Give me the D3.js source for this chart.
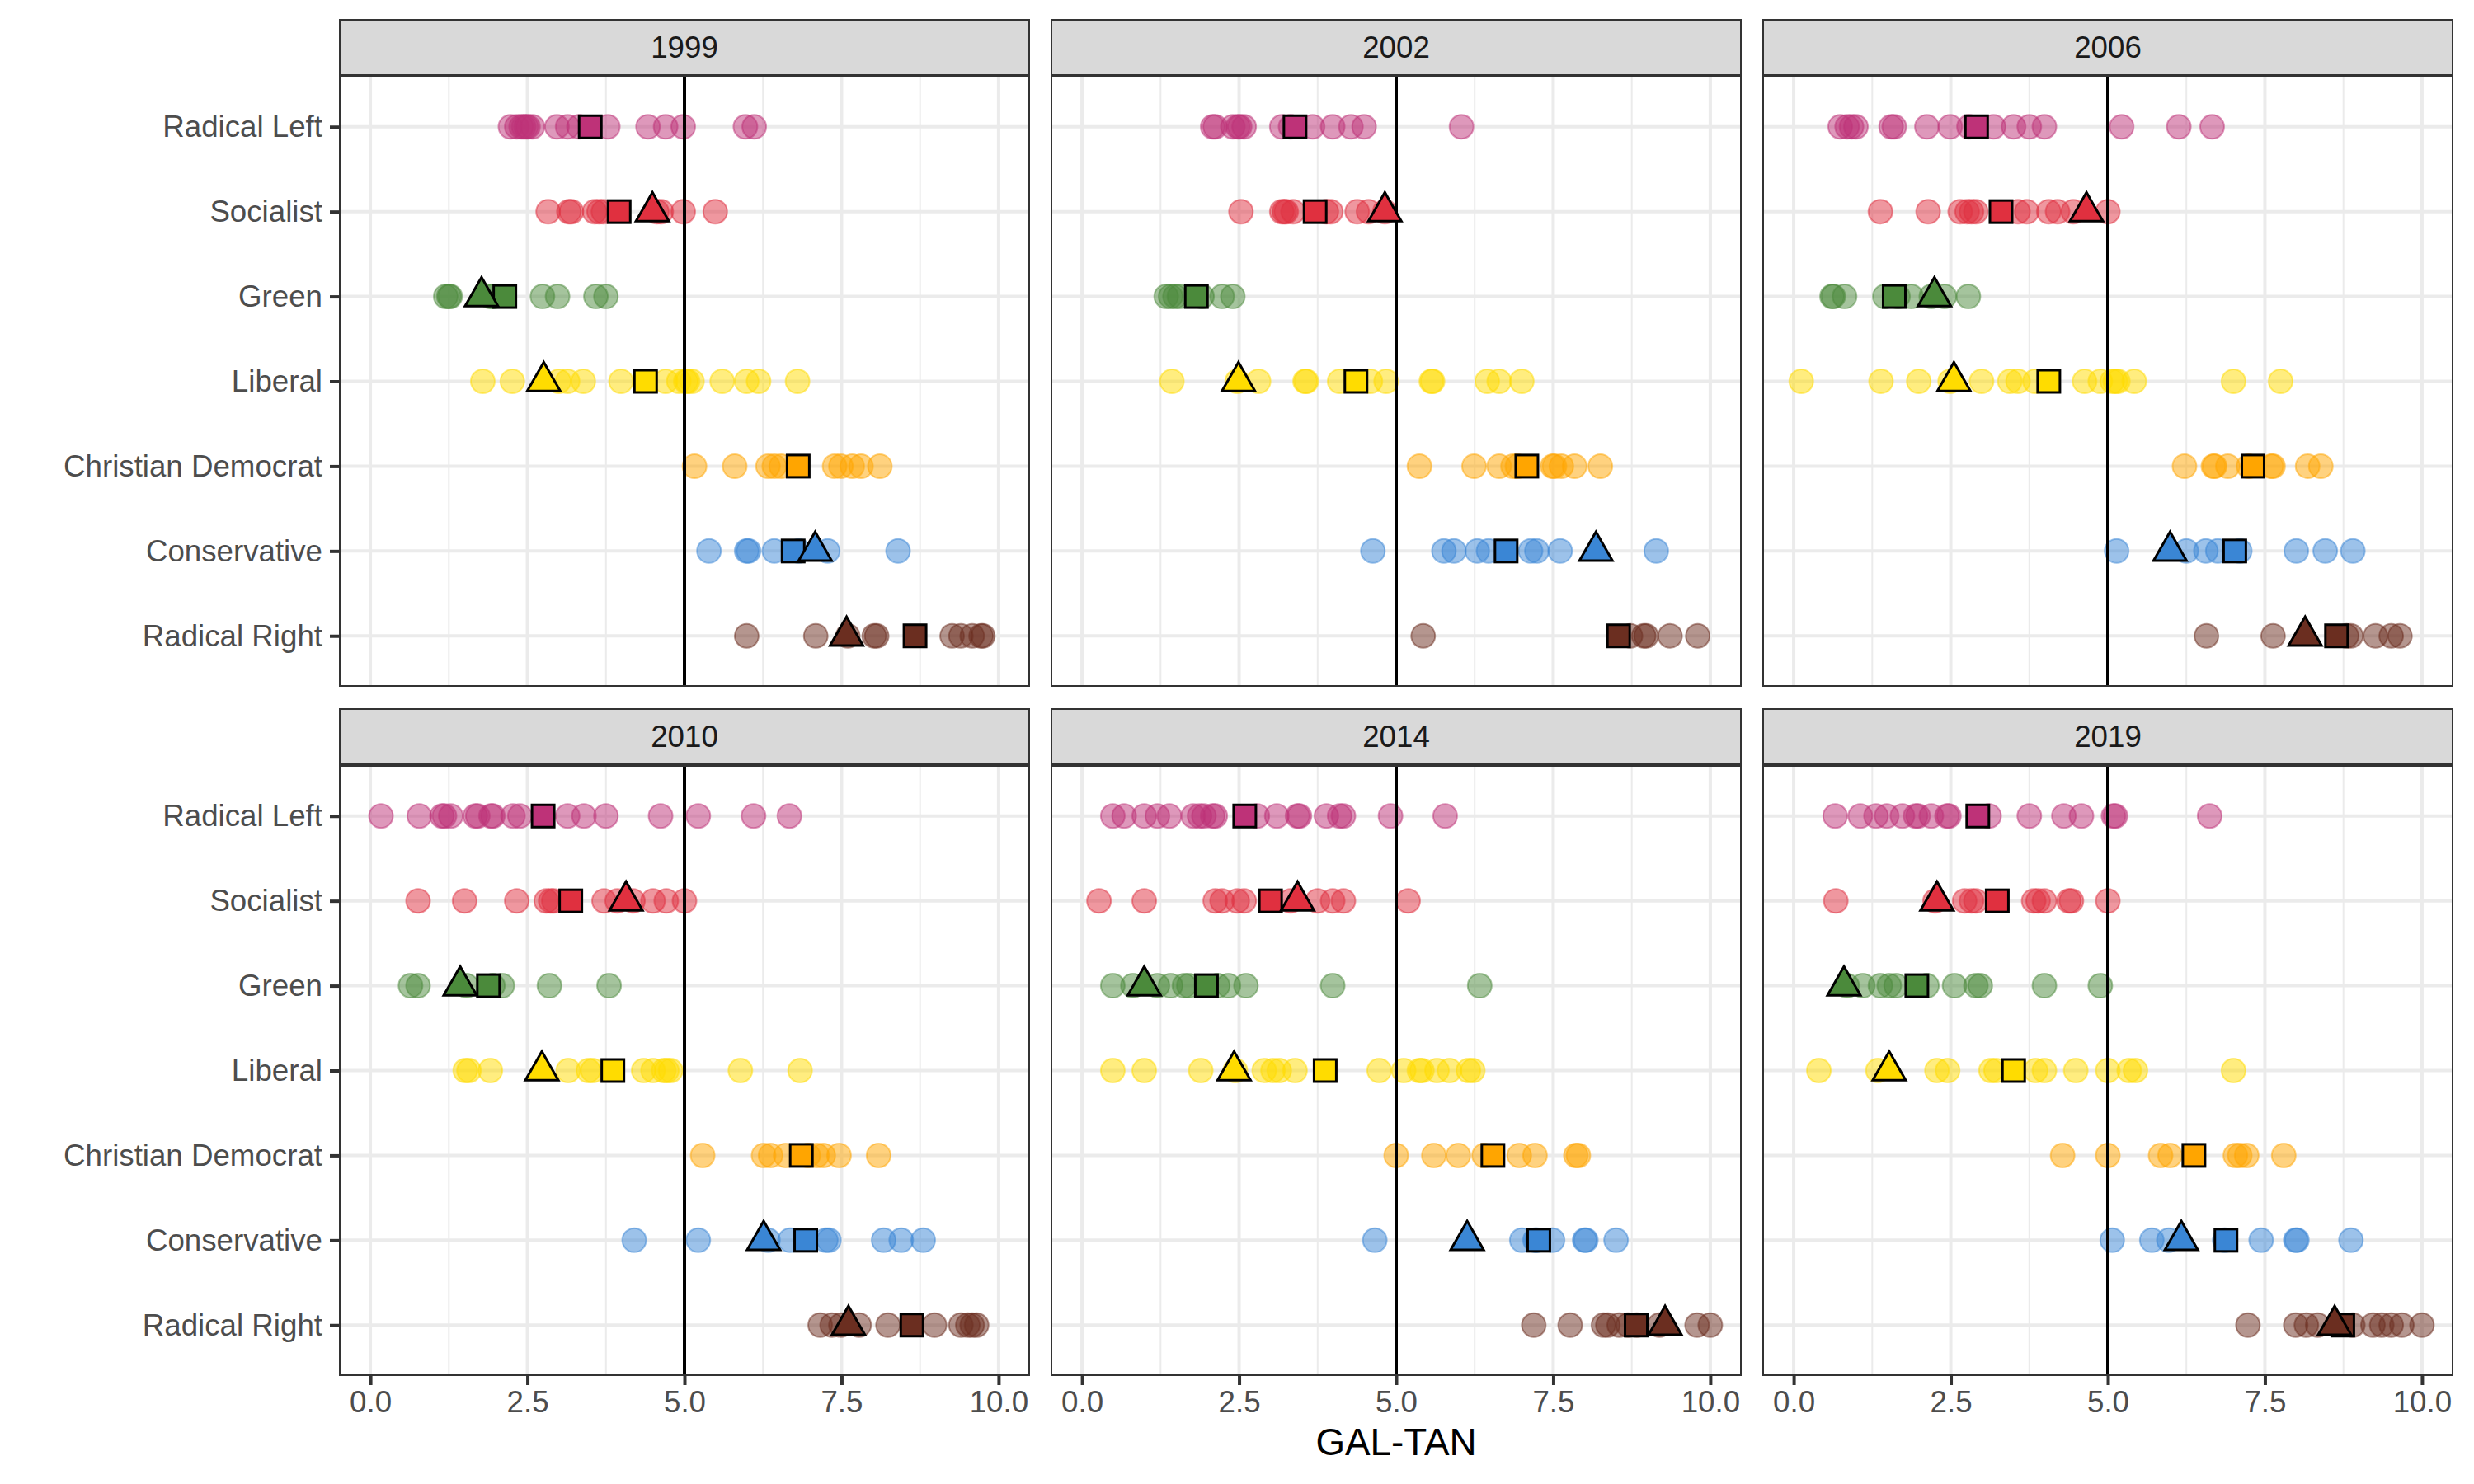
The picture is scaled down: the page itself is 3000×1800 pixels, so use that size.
<!DOCTYPE html>
<html>
<head>
<meta charset="utf-8">
<script src="https://cdn.jsdelivr.net/npm/d3@7"></script>
<style>
  html, body { margin: 0; padding: 0; background: #ffffff; }
  svg { display: block; font-family: "Liberation Sans", Arial, sans-serif; }
</style>
</head>
<body>
<script>
// ---------------- DATA ----------------
const families = ["Radical Left", "Socialist", "Green", "Liberal", "Christian Democrat", "Conservative", "Radical Right"];
const years = ["1999", "2002", "2006", "2010", "2014", "2019"];
const familyColors = ["#be3278", "#e0303f", "#4b8a3b", "#ffdc00", "#ffa500", "#3a86d5", "#6b2e20"];
const xTicks = [0, 2.5, 5, 7.5, 10];
const xMinor = [1.25, 3.75, 6.25, 8.75];
const refLine = 5;

// party positions per family (order of `families`)
const parties1999 = [
  [2.23, 2.33, 2.40, 2.44, 2.48, 2.51, 2.58, 2.97, 3.14, 3.32, 3.78, 4.42, 4.70, 4.98, 5.97, 6.11],
  [2.83, 3.16, 3.20, 3.57, 3.64, 3.71, 4.56, 4.63, 4.98, 5.49],
  [1.20, 1.25, 1.27, 1.91, 1.95, 2.74, 2.98, 3.59, 3.75],
  [1.79, 2.26, 3.00, 3.14, 3.39, 3.99, 4.70, 4.91, 5.02, 5.05, 5.12, 5.60, 5.99, 6.18, 6.80],
  [5.16, 5.80, 6.33, 6.43, 6.54, 7.39, 7.49, 7.67, 7.81, 8.11],
  [5.39, 5.99, 6.02, 6.43, 6.82, 7.28, 8.40],
  [5.99, 7.09, 7.60, 8.02, 8.06, 9.26, 9.40, 9.58, 9.72, 9.75]
];
const means1999 = [3.50, 3.96, 2.14, 4.38, 6.81, 6.73, 8.67];
const focus1999 = [null, 4.49, 1.77, 2.76, null, 7.08, 7.58];

const parties2002 = [
  [2.08, 2.12, 2.40, 2.48, 2.51, 2.58, 3.18, 3.32, 3.67, 3.99, 4.28, 4.49, 6.04],
  [2.53, 3.18, 3.22, 3.25, 3.36, 3.89, 3.96, 4.38, 4.56, 4.82],
  [1.34, 1.41, 1.48, 1.55, 1.91, 2.23, 2.40],
  [1.43, 2.47, 2.81, 3.55, 3.57, 4.10, 4.59, 4.84, 5.56, 5.58, 6.45, 6.64, 7.00],
  [5.37, 6.24, 6.64, 6.86, 6.93, 7.49, 7.52, 7.63, 7.84, 8.25],
  [4.63, 5.76, 5.92, 6.29, 6.47, 7.14, 7.24, 7.61, 9.14],
  [5.43, 8.73, 8.94, 8.98, 9.36, 9.80]
];
const means2002 = [3.39, 3.71, 1.82, 4.36, 7.08, 6.75, 8.54];
const focus2002 = [null, 4.82, null, 2.49, null, 8.18, null];

const parties2006 = [
  [0.74, 0.85, 0.92, 0.99, 1.55, 1.60, 2.12, 2.49, 2.79, 3.18, 3.50, 3.75, 3.99, 5.22, 6.13, 6.66],
  [1.38, 2.14, 2.65, 2.76, 2.83, 2.90, 3.57, 3.71, 4.06, 4.20, 4.45, 5.00],
  [0.61, 0.63, 0.81, 1.45, 1.66, 1.87, 2.19, 2.40, 2.78],
  [0.12, 1.39, 1.99, 2.49, 2.99, 3.44, 3.57, 3.84, 4.63, 4.88, 5.07, 5.12, 5.16, 5.42, 7.00, 7.75],
  [6.22, 6.68, 6.70, 6.91, 7.24, 7.60, 7.63, 8.18, 8.39],
  [5.14, 6.25, 6.56, 6.75, 7.10, 8.00, 8.46, 8.90],
  [6.57, 7.63, 8.80, 8.87, 9.26, 9.51, 9.65]
];
const means2006 = [2.91, 3.30, 1.60, 4.06, 7.31, 7.02, 8.64];
const focus2006 = [null, 4.66, 2.24, 2.55, null, 5.99, 8.14];

const parties2010 = [
  [0.17, 0.78, 1.14, 1.18, 1.28, 1.67, 1.71, 1.92, 1.95, 2.27, 2.38, 3.14, 3.40, 3.75, 4.62, 5.22, 6.10, 6.67],
  [0.76, 1.50, 2.33, 2.80, 2.87, 2.92, 3.72, 3.93, 4.18, 4.50, 4.71, 5.00],
  [0.64, 0.76, 1.53, 1.95, 2.10, 2.85, 3.80],
  [1.51, 1.57, 1.91, 3.15, 3.47, 3.54, 4.35, 4.50, 4.67, 4.72, 4.78, 5.89, 6.84],
  [5.29, 6.26, 6.37, 6.61, 6.97, 7.11, 7.21, 7.46, 8.09],
  [4.20, 5.22, 6.33, 6.68, 7.25, 7.30, 8.17, 8.45, 8.80],
  [7.16, 7.35, 7.49, 7.78, 8.24, 8.98, 9.40, 9.51, 9.58, 9.65]
];
const means2010 = [2.75, 3.19, 1.88, 3.86, 6.86, 6.93, 8.62];
const focus2010 = [null, 4.07, 1.43, 2.73, null, 6.26, 7.61];

const parties2014 = [
  [0.49, 0.67, 0.99, 1.20, 1.39, 1.77, 1.87, 1.94, 2.08, 2.12, 2.79, 3.10, 3.43, 3.46, 3.89, 4.10, 4.16, 4.91, 5.78],
  [0.27, 0.99, 2.12, 2.23, 2.47, 2.58, 3.32, 3.75, 3.99, 4.16, 5.19],
  [0.49, 0.81, 1.20, 1.41, 1.63, 1.70, 2.16, 2.33, 2.61, 3.99, 6.33],
  [0.49, 0.99, 1.89, 2.44, 2.90, 3.04, 3.14, 3.39, 4.73, 5.12, 5.37, 5.41, 5.65, 5.85, 6.15, 6.22],
  [5.00, 5.60, 5.99, 6.40, 6.96, 7.21, 7.86, 7.90],
  [4.66, 7.00, 7.21, 7.24, 7.49, 8.00, 8.02, 8.50],
  [7.19, 7.77, 8.30, 8.37, 8.55, 8.69, 8.83, 9.19, 9.79, 10.0]
];
const means2014 = [2.59, 3.00, 1.98, 3.87, 6.54, 7.27, 8.82];
const focus2014 = [null, 3.43, 0.99, 2.42, null, 6.13, 9.28];

const parties2019 = [
  [0.66, 1.06, 1.31, 1.48, 1.73, 1.94, 1.98, 2.19, 2.44, 2.47, 3.11, 3.75, 4.30, 4.58, 5.09, 5.12, 6.62],
  [0.67, 2.25, 2.72, 2.83, 2.90, 3.82, 3.89, 3.99, 4.38, 4.42, 5.00],
  [0.85, 1.10, 1.38, 1.52, 1.63, 2.12, 2.56, 2.90, 2.97, 3.99, 4.88],
  [0.40, 1.34, 2.28, 2.45, 3.14, 3.22, 3.85, 3.99, 4.49, 5.00, 5.34, 5.44, 7.00],
  [4.28, 5.00, 5.84, 5.99, 7.03, 7.10, 7.21, 7.80],
  [5.07, 5.70, 5.97, 6.86, 7.44, 7.99, 8.01, 8.87],
  [7.23, 7.99, 8.16, 8.34, 8.90, 9.22, 9.36, 9.51, 9.68, 10.0]
];
const means2019 = [2.93, 3.24, 1.96, 3.50, 6.37, 6.88, 8.74];
const focus2019 = [null, 2.28, 0.80, 1.52, null, 6.17, 8.61];

const partiesByYear = [parties1999, parties2002, parties2006, parties2010, parties2014, parties2019];
const meansByYear = [means1999, means2002, means2006, means2010, means2014, means2019];
const focusByYear = [focus1999, focus2002, focus2006, focus2010, focus2014, focus2019];

// ---------------- LAYOUT ----------------
const W = 3000, H = 1800;
const colX = [411, 1274, 2137];
const rowY = [92, 928];
const panelW = 838, panelH = 741, stripH = 69;
const axisFont = 36.7, titleFont = 45.8;

const svg = d3.select("body").append("svg").attr("width", W).attr("height", H);
svg.append("rect").attr("width", W).attr("height", H).attr("fill", "#ffffff");

const x = d3.scaleLinear().domain([-0.5, 10.5]).range([0, panelW]);
const y = d3.scalePoint().domain(families).range([0, panelH]).padding(0.6);
const color = d3.scaleOrdinal().domain(families).range(familyColors);

const triH = 35, triSide = 40;
const trianglePath = `M0,${-triH * 2 / 3}L${triSide / 2},${triH / 3}L${-triSide / 2},${triH / 3}Z`;

years.forEach((yr, i) => {
  const col = i % 3, row = Math.floor(i / 3);
  const px = colX[col], py = rowY[row];
  const g = svg.append("g").attr("transform", `translate(${px},${py})`);

  g.append("clipPath").attr("id", "clip" + i)
    .append("rect").attr("width", panelW).attr("height", panelH);

  const body = g.append("g").attr("clip-path", `url(#clip${i})`);
  body.append("rect").attr("width", panelW).attr("height", panelH).attr("fill", "#ffffff");

  // grid
  body.selectAll(".minor").data(xMinor).join("line")
    .attr("x1", d => x(d)).attr("x2", d => x(d)).attr("y1", 0).attr("y2", panelH)
    .attr("stroke", "#ebebeb").attr("stroke-width", 2);
  body.selectAll(".majorx").data(xTicks).join("line")
    .attr("x1", d => x(d)).attr("x2", d => x(d)).attr("y1", 0).attr("y2", panelH)
    .attr("stroke", "#ebebeb").attr("stroke-width", 4);
  body.selectAll(".majory").data(families).join("line")
    .attr("x1", 0).attr("x2", panelW).attr("y1", d => y(d)).attr("y2", d => y(d))
    .attr("stroke", "#ebebeb").attr("stroke-width", 4);

  // party circles
  const pts = [];
  partiesByYear[i].forEach((arr, fi) => arr.forEach(v => pts.push({ f: families[fi], v })));
  body.append("g").selectAll("circle").data(pts).join("circle")
    .attr("cx", d => x(d.v)).attr("cy", d => y(d.f)).attr("r", 14.5)
    .attr("fill", d => color(d.f)).attr("fill-opacity", 0.5)
    .attr("stroke", d => color(d.f)).attr("stroke-opacity", 0.5).attr("stroke-width", 2);

  // reference line
  body.append("line").attr("x1", x(refLine)).attr("x2", x(refLine))
    .attr("y1", 0).attr("y2", panelH).attr("stroke", "#000").attr("stroke-width", 4);

  // family means (squares)
  const mean = meansByYear[i].map((v, fi) => ({ f: families[fi], v })).filter(d => d.v != null);
  body.append("g").selectAll("rect").data(mean).join("rect")
    .attr("x", d => x(d.v) - 13.5).attr("y", d => y(d.f) - 13.5)
    .attr("width", 27).attr("height", 27)
    .attr("fill", d => color(d.f)).attr("stroke", "#000").attr("stroke-width", 3);

  // focus parties (triangles)
  const foc = focusByYear[i].map((v, fi) => ({ f: families[fi], v })).filter(d => d.v != null);
  body.append("g").selectAll("path").data(foc).join("path")
    .attr("d", trianglePath)
    .attr("transform", d => `translate(${x(d.v)},${y(d.f)})`)
    .attr("fill", d => color(d.f)).attr("stroke", "#000").attr("stroke-width", 3)
    .attr("stroke-linejoin", "miter");

  // panel border
  g.append("rect").attr("x", 1).attr("y", 1).attr("width", panelW - 2).attr("height", panelH - 2)
    .attr("fill", "none").attr("stroke", "#333333").attr("stroke-width", 2);

  // strip
  const strip = g.append("g").attr("transform", `translate(0,${-stripH})`);
  strip.append("rect").attr("x", 1).attr("y", 1).attr("width", panelW - 2).attr("height", stripH - 2)
    .attr("fill", "#d9d9d9").attr("stroke", "#333333").attr("stroke-width", 2);
  strip.append("text").attr("x", panelW / 2).attr("y", stripH / 2)
    .attr("text-anchor", "middle").attr("dominant-baseline", "central")
    .attr("font-size", axisFont).attr("fill", "#1a1a1a").text(yr);

  // y axis on left column
  if (col === 0) {
    const ya = g.append("g").call(d3.axisLeft(y).tickSize(11).tickPadding(9));
    ya.select(".domain").remove();
    ya.selectAll("line").attr("stroke", "#333333").attr("stroke-width", 4);
    ya.selectAll("text").attr("font-size", axisFont).attr("fill", "#4d4d4d")
      .attr("font-family", "Liberation Sans, Arial, sans-serif");
  }
  // x axis on bottom row
  if (row === 1) {
    const xa = g.append("g").attr("transform", `translate(0,${panelH})`)
      .call(d3.axisBottom(x).tickValues(xTicks).tickFormat(d3.format(".1f")).tickSize(11).tickPadding(7));
    xa.select(".domain").remove();
    xa.selectAll("line").attr("stroke", "#333333").attr("stroke-width", 4);
    xa.selectAll("text").attr("font-size", axisFont).attr("fill", "#4d4d4d")
      .attr("font-family", "Liberation Sans, Arial, sans-serif");
  }
});

// axis title
svg.append("text")
  .attr("x", (colX[0] + colX[2] + panelW) / 2).attr("y", 1749)
  .attr("text-anchor", "middle").attr("dominant-baseline", "central")
  .attr("font-size", titleFont).attr("fill", "#000").text("GAL-TAN");
</script>
</body>
</html>
